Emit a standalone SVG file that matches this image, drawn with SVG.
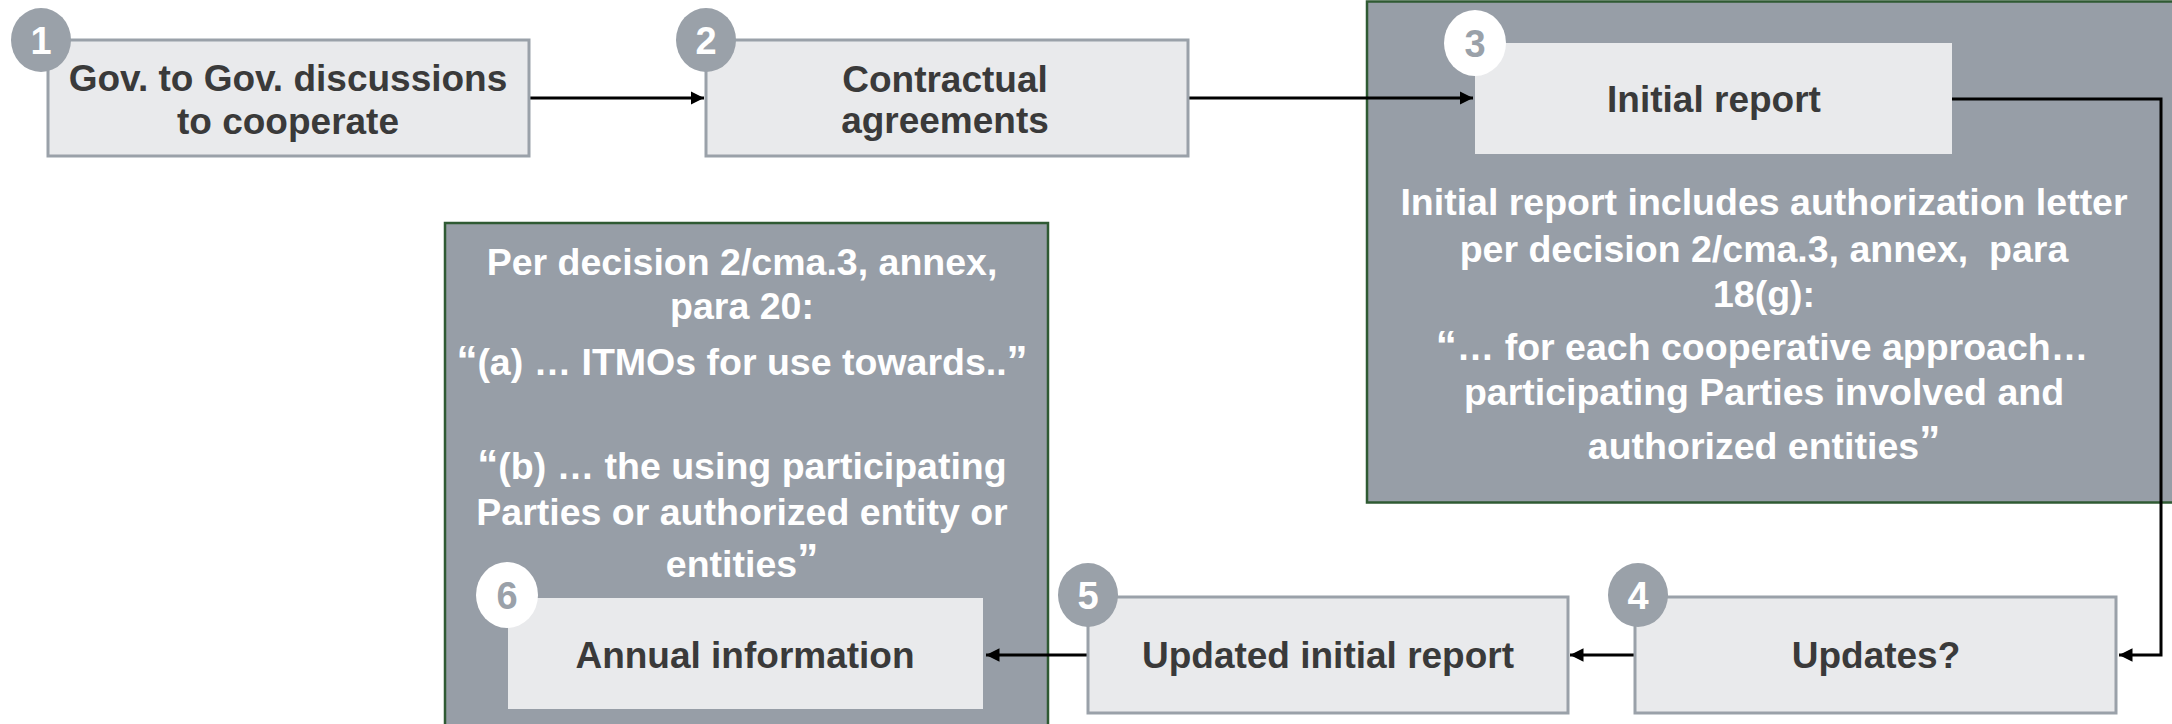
<svg xmlns="http://www.w3.org/2000/svg" width="2172" height="724" viewBox="0 0 2172 724">
<style>
.box{fill:#E9EAEC;stroke:#9AA1A9;stroke-width:3}
.ibox{fill:#E9EAEC;stroke:none}
.panel{fill:#979EA7;stroke:#2F5A33;stroke-width:2.5}
.badge{fill:#9AA1A9}
.wbadge{fill:#FFFFFF}
.num{font-family:"Liberation Sans",Arial,sans-serif;font-weight:bold;font-size:38px;fill:#FFFFFF;text-anchor:middle}
.wnum{font-family:"Liberation Sans",Arial,sans-serif;font-weight:bold;font-size:38px;fill:#9AA1A9;text-anchor:middle}
.lbl{font-family:"Liberation Sans",Arial,sans-serif;font-weight:bold;font-size:37px;fill:#3A3A3A;text-anchor:middle}
.ptxt{font-family:"Liberation Sans",Arial,sans-serif;font-weight:bold;font-size:37.5px;fill:#FFFFFF;text-anchor:middle}
.q{font-size:42px}
.conn{fill:none;stroke:#000000;stroke-width:3}
</style>
<defs>
<marker id="arr" viewBox="0 0 10 10" refX="10" refY="5" markerWidth="4.5" markerHeight="4.5" orient="auto" markerUnits="strokeWidth">
<path d="M0,0 L10,5 L0,10 z" fill="#000000"/>
</marker>
</defs>

<g id="panel-3">
<rect class="panel" x="1367" y="1.5" width="1778" height="501"/>
<text class="ptxt" x="1764" y="215">Initial report includes authorization letter</text>
<text class="ptxt" x="1764" y="262">per decision 2/cma.3, annex,&#160; para</text>
<text class="ptxt" x="1764" y="307">18(g):</text>
<text class="ptxt" x="1762" y="360"><tspan class="q">“</tspan>… for each cooperative approach…</text>
<text class="ptxt" x="1764" y="405">participating Parties involved and</text>
<text class="ptxt" x="1764" y="459">authorized entities<tspan class="q" dy="-4">”</tspan></text>
</g>

<g id="panel-6">
<rect class="panel" x="445" y="223" width="603" height="520"/>
<text class="ptxt" x="742" y="275">Per decision 2/cma.3, annex,</text>
<text class="ptxt" x="742" y="319">para 20:</text>
<text class="ptxt" x="742" y="375"><tspan class="q">“</tspan>(a) … ITMOs for use towards..<tspan class="q">”</tspan></text>
<text class="ptxt" x="742" y="479"><tspan class="q">“</tspan>(b) … the using participating</text>
<text class="ptxt" x="742" y="525">Parties or authorized entity or</text>
<text class="ptxt" x="742" y="577">entities<tspan class="q" dy="-4">”</tspan></text>
</g>

<g id="connectors">
<line class="conn" x1="529" y1="98" x2="704" y2="98" marker-end="url(#arr)"/>
<line class="conn" x1="1188" y1="98" x2="1473" y2="98" marker-end="url(#arr)"/>
<polyline class="conn" points="1952,99 2161,99 2161,655 2119,655" marker-end="url(#arr)"/>
<line class="conn" x1="1635" y1="655" x2="1570" y2="655" marker-end="url(#arr)"/>
<line class="conn" x1="1088" y1="655" x2="986" y2="655" marker-end="url(#arr)"/>
</g>

<g id="node-1">
<rect class="box" x="48" y="40" width="481" height="116"/>
<text class="lbl" x="288" y="91">Gov. to Gov. discussions</text>
<text class="lbl" x="288" y="134">to cooperate</text>
<ellipse class="badge" cx="41" cy="40" rx="30" ry="32"/>
<text class="num" x="41" y="54">1</text>
</g>

<g id="node-2">
<rect class="box" x="706" y="40" width="482" height="116"/>
<text class="lbl" x="945" y="92">Contractual</text>
<text class="lbl" x="945" y="133">agreements</text>
<ellipse class="badge" cx="706" cy="40" rx="30" ry="32"/>
<text class="num" x="706" y="54">2</text>
</g>

<g id="node-3">
<rect class="ibox" x="1475" y="43" width="477" height="111"/>
<text class="lbl" x="1714" y="112">Initial report</text>
<ellipse class="wbadge" cx="1475" cy="43" rx="31" ry="33"/>
<text class="wnum" x="1475" y="57">3</text>
</g>

<g id="node-4">
<rect class="box" x="1635" y="597" width="481" height="116"/>
<text class="lbl" x="1876" y="668">Updates?</text>
<ellipse class="badge" cx="1638" cy="595" rx="30" ry="32"/>
<text class="num" x="1638" y="609">4</text>
</g>

<g id="node-5">
<rect class="box" x="1088" y="597" width="480" height="116"/>
<text class="lbl" x="1328" y="668">Updated initial report</text>
<ellipse class="badge" cx="1088" cy="595" rx="30" ry="32"/>
<text class="num" x="1088" y="609">5</text>
</g>

<g id="node-6">
<rect class="ibox" x="508" y="598" width="475" height="111"/>
<text class="lbl" x="745" y="668">Annual information</text>
<ellipse class="wbadge" cx="507" cy="595" rx="31" ry="33"/>
<text class="wnum" x="507" y="609">6</text>
</g>
</svg>
